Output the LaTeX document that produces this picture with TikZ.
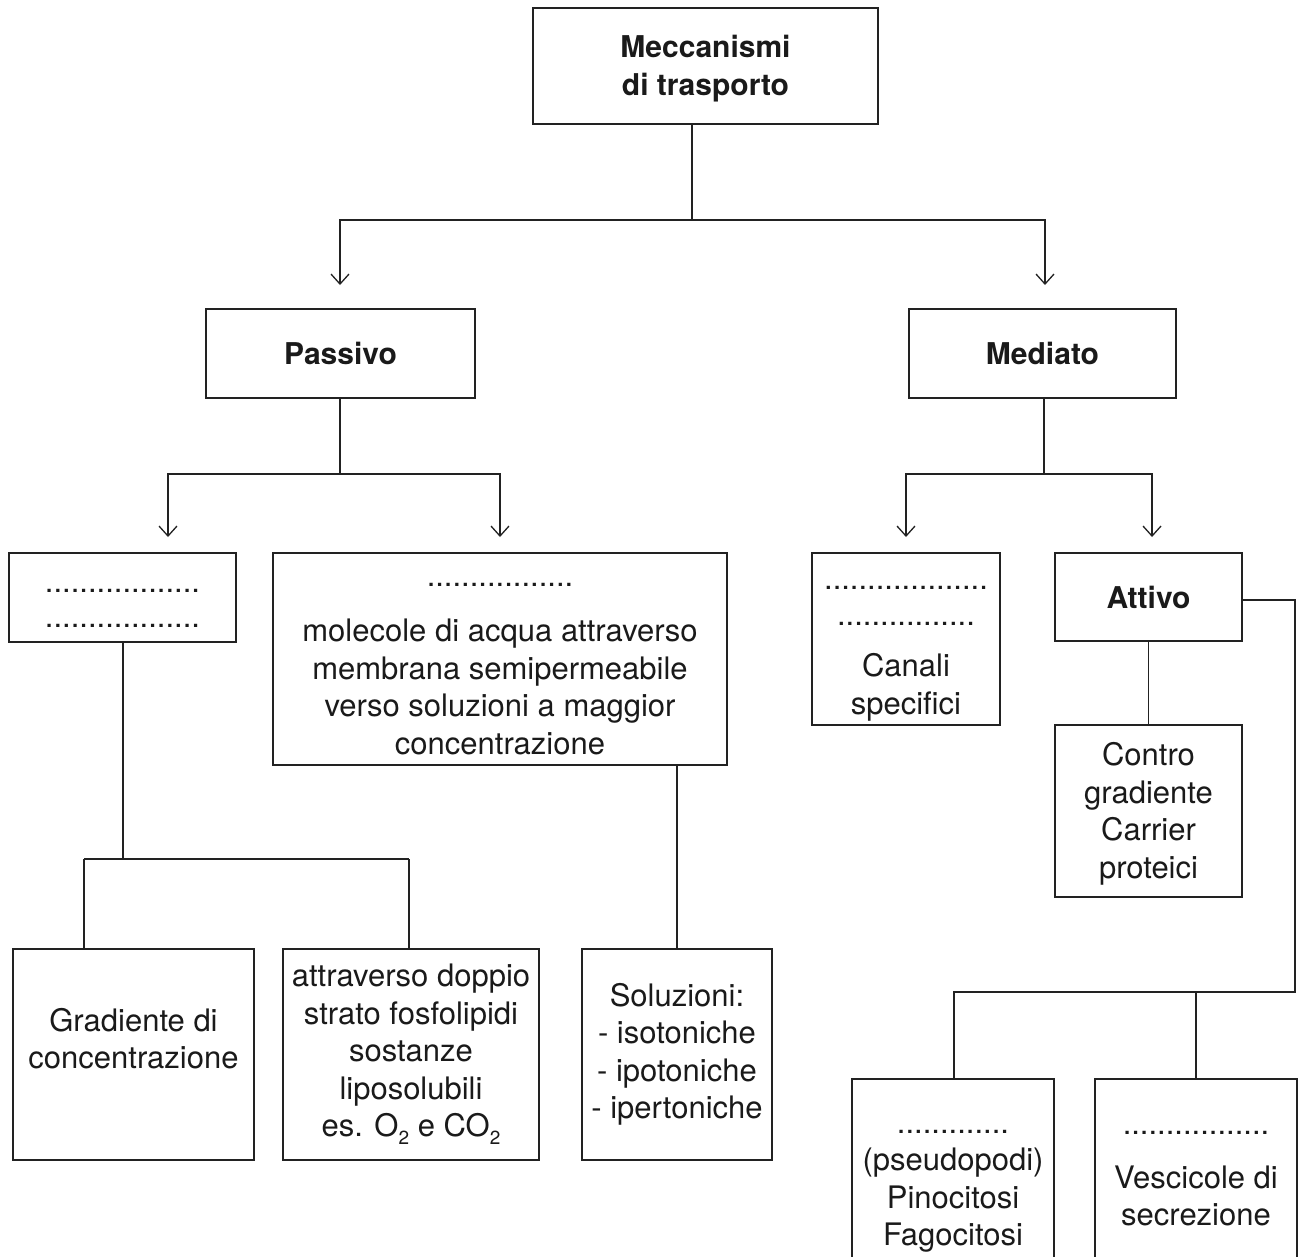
\documentclass[tikz,border=0pt]{standalone}
\usepackage{fontspec}
\setmainfont{TeX Gyre Heros}
\usetikzlibrary{arrows.meta}
\definecolor{txt}{HTML}{1A1A1A}
\definecolor{ln}{HTML}{222222}
\newcommand\subtwo{\raisebox{-8pt}{\fontsize{19}{19}\selectfont 2}}
\begin{document}
\begin{tikzpicture}[x=1pt,y=-1pt,
  box/.style={draw=ln, line width=1.3pt, align=center, inner sep=0pt, text=txt,
    font={\fontsize{31}{37.5}\selectfont}},
  bbox/.style={box, font={\fontsize{30}{38}\selectfont\bfseries}},
  lbl/.style={align=center, inner sep=0pt, text=txt, font={\fontsize{31}{37.5}\selectfont}},
  conn/.style={draw=ln, line width=1.3pt},
  arr/.style={conn, -{Straight Barb[length=10pt,width=18pt,line width=1.3pt]}}]
\useasboundingbox (0,0) rectangle (1303,1256);
\clip (0,0) rectangle (1303,1256);
\fill[white] (0,0) rectangle (1303,1256);

\node[bbox, minimum width=345pt, minimum height=116pt,
  label={[lbl, font={\fontsize{30}{38}\selectfont\bfseries}, yshift=-3pt]center:{Meccanismi\\di trasporto}}] (top) at (705.5,66) {};
\node[bbox, minimum width=269pt, minimum height=89pt] (passivo) at (340.5,353.5) {Passivo};
\node[bbox, minimum width=267pt, minimum height=89pt] (mediato) at (1042.5,353.5) {Mediato};

\node[box, minimum width=227pt, minimum height=89pt,
  label={[lbl, yshift=-11pt]center:{..................\\[-2pt]..................}}] (b1) at (122.5,597.5) {};
\node[box, minimum width=454pt, minimum height=212pt,
  label={[lbl, yshift=-10pt]center:{.................\\[18pt]molecole di acqua attraverso\\membrana semipermeabile\\verso soluzioni a maggior\\concentrazione}}] (big) at (500,659) {};
\node[box, minimum width=188pt, minimum height=172pt,
  label={[lbl, yshift=-15pt]center:{...................\\[-2pt]................\\[14pt]Canali\\specifici}}] (canali) at (906,639) {};
\node[bbox, minimum width=187pt, minimum height=88pt] (attivo) at (1148.5,597) {Attivo};
\node[box, minimum width=187pt, minimum height=172pt,
  label={[lbl, yshift=-3pt]center:{Contro\\gradiente\\Carrier\\proteici}}] (contro) at (1148.5,811) {};

\node[box, minimum width=241pt, minimum height=211pt,
  label={[lbl, yshift=16pt]center:{Gradiente di\\concentrazione}}] (grad) at (133.5,1054.5) {};
\node[box, minimum width=256pt, minimum height=211pt] (attr) at (411,1054.5) {attraverso doppio\\strato fosfolipidi\\sostanze\\liposolubili\\es. O\subtwo{} e CO\subtwo};
\node[box, minimum width=190pt, minimum height=211pt] (sol) at (677,1054.5) {Soluzioni:\\- isotoniche\\- ipotoniche\\- ipertoniche};

\node[box, minimum width=202pt, minimum height=200pt,
  label={[lbl, yshift=-12pt]center:{.............\\(pseudopodi)\\Pinocitosi\\Fagocitosi}}] (pseudo) at (953,1179) {};
\node[box, minimum width=202pt, minimum height=200pt,
  label={[lbl]center:{.................\\[16pt]Vescicole di\\secrezione}}] (vesc) at (1196,1179) {};

% level 1
\coordinate (j1) at (692,220);
\coordinate (a1) at (340,285);
\coordinate (a2) at (1045,285);
\draw[conn] (top.south -| j1) -- (j1);
\draw[arr] (j1) -| (a1);
\draw[arr] (j1) -| (a2);

% passivo
\coordinate (j2) at (340,474);
\coordinate (a3) at (168,537);
\coordinate (a4) at (500,537);
\draw[conn] (passivo.south -| j2) -- (j2);
\draw[arr] (j2) -| (a3);
\draw[arr] (j2) -| (a4);

% mediato
\coordinate (j3) at (1044,474);
\coordinate (a5) at (906,537);
\coordinate (a6) at (1152,537);
\draw[conn] (mediato.south -| j3) -- (j3);
\draw[arr] (j3) -| (a5);
\draw[arr] (j3) -| (a6);

% b1 -> grad, attr
\coordinate (j4) at (123,859);
\coordinate (g1) at (84,859);
\coordinate (g2) at (409,859);
\draw[conn] (b1.south -| j4) -- (j4);
\draw[conn] (g1) -- (g2);
\draw[conn] (g1) -- (grad.north -| g1);
\draw[conn] (g2) -- (attr.north -| g2);

% big -> sol
\draw[conn] (big.south -| sol.north) -- (sol.north);

% attivo -> contro
\draw[conn] (attivo.south) -- (contro.north);

% attivo -> pseudo, vesc
\coordinate (r1) at (1295,600);
\coordinate (r2) at (1295,992);
\coordinate (r3) at (954,992);
\coordinate (r4) at (1196,992);
\draw[conn] (attivo.east |- r1) -- (r1) -- (r2) -- (r3) -- (pseudo.north -| r3);
\draw[conn] (r4) -- (vesc.north -| r4);
\end{tikzpicture}
\end{document}
